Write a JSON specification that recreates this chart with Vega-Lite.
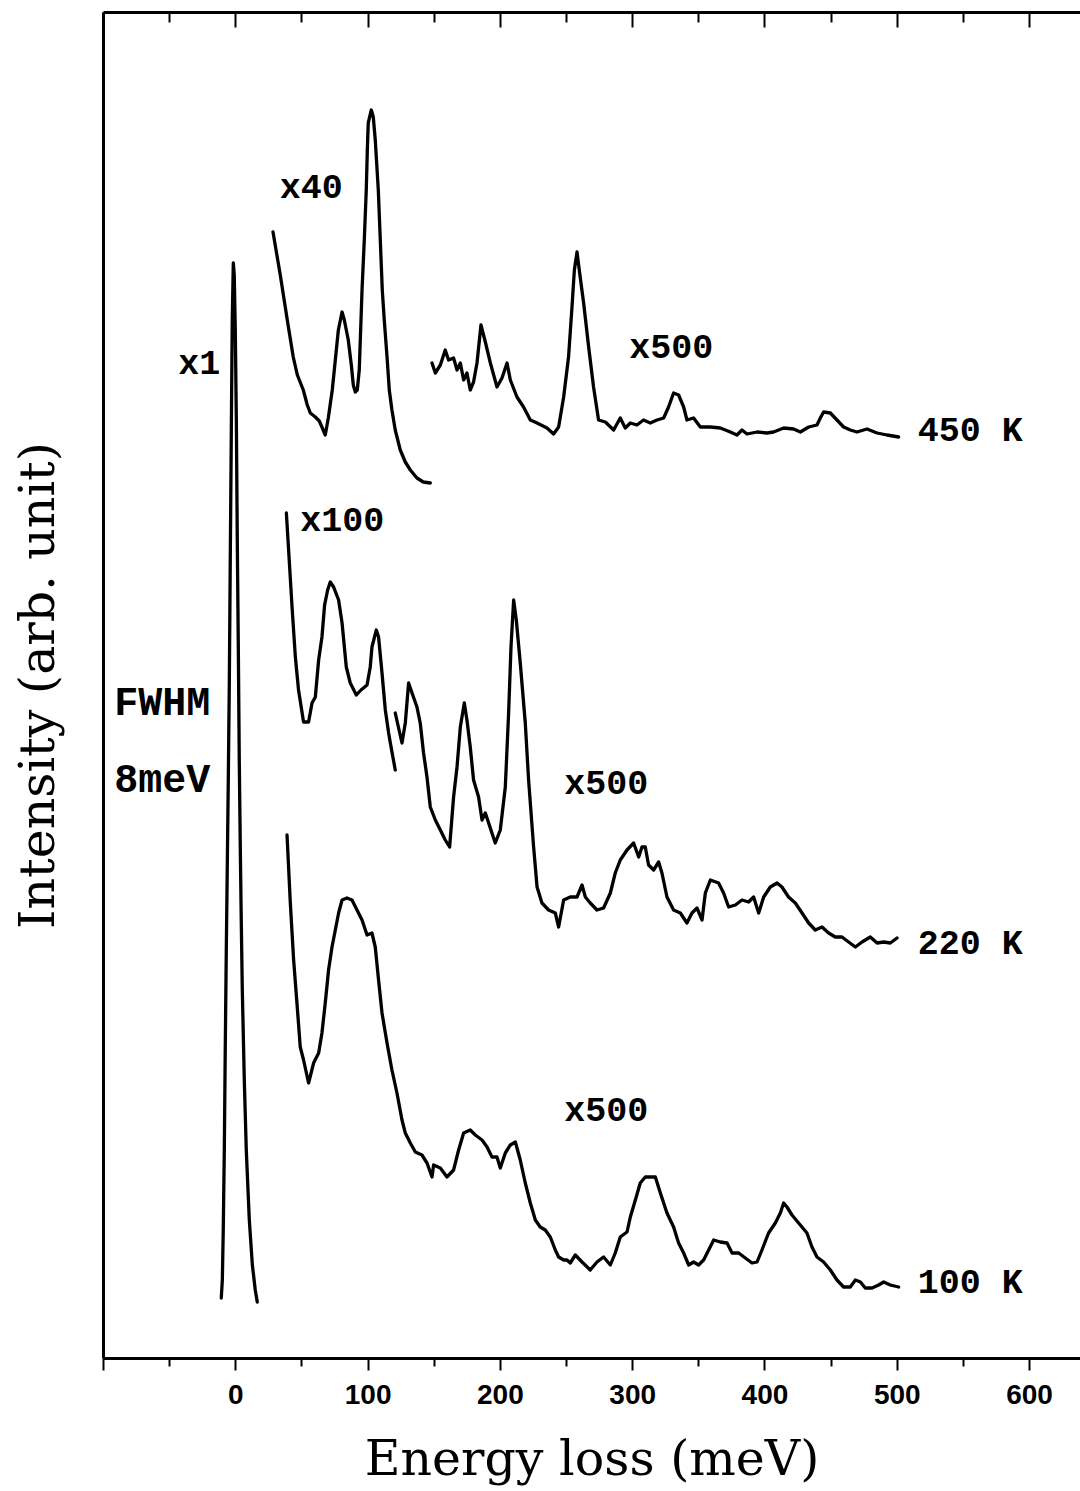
{
  "$schema": "https://vega.github.io/schema/vega-lite/v6.json",
  "width": 977,
  "height": 1346,
  "autosize": {"type": "none"},
  "padding": {"left": 103, "top": 12, "right": 0, "bottom": 133},
  "background": "white",
  "config": {"view": {"stroke": null}},
  "datasets": {
    "curves": [
      {"s":"el","x":-10.6,"y":60},{"s":"el","x":-9.8,"y":78},{"s":"el","x":-9.1,"y":128},{"s":"el","x":-8.3,"y":208},{"s":"el","x":-7.6,"y":308},{"s":"el","x":-6.8,"y":408},{"s":"el","x":-6.0,"y":498},{"s":"el","x":-5.3,"y":578},{"s":"el","x":-4.5,"y":678},{"s":"el","x":-3.8,"y":798},{"s":"el","x":-3.0,"y":928},{"s":"el","x":-2.3,"y":1038},{"s":"el","x":-1.5,"y":1095},{"s":"el","x":-0.8,"y":1083},{"s":"el","x":0,"y":1028},{"s":"el","x":0.8,"y":938},{"s":"el","x":1.5,"y":818},{"s":"el","x":2.3,"y":708},{"s":"el","x":3.0,"y":598},{"s":"el","x":3.8,"y":508},{"s":"el","x":4.5,"y":438},{"s":"el","x":5.3,"y":368},{"s":"el","x":6.8,"y":278},{"s":"el","x":8.3,"y":208},{"s":"el","x":10.6,"y":138},{"s":"el","x":12.9,"y":93},{"s":"el","x":15.1,"y":68},{"s":"el","x":16.6,"y":56},

      {"s":"x40","x":28.5,"y":1126},{"s":"x40","x":34.0,"y":1083},{"s":"x40","x":39.3,"y":1038},{"s":"x40","x":43.8,"y":1001},{"s":"x40","x":46.9,"y":983},{"s":"x40","x":51.4,"y":968},{"s":"x40","x":54.4,"y":953},{"s":"x40","x":56.7,"y":945},{"s":"x40","x":60.5,"y":941},{"s":"x40","x":63.5,"y":937},{"s":"x40","x":65.8,"y":930},{"s":"x40","x":68.0,"y":923},{"s":"x40","x":70.3,"y":940},{"s":"x40","x":73.3,"y":968},{"s":"x40","x":75.6,"y":998},{"s":"x40","x":77.9,"y":1028},{"s":"x40","x":80.7,"y":1046},{"s":"x40","x":82.4,"y":1038},{"s":"x40","x":85.4,"y":1018},{"s":"x40","x":87.7,"y":993},{"s":"x40","x":89.2,"y":973},{"s":"x40","x":90.7,"y":966},{"s":"x40","x":92.2,"y":968},{"s":"x40","x":93.7,"y":988},{"s":"x40","x":95.8,"y":1068},{"s":"x40","x":97.5,"y":1118},{"s":"x40","x":99.0,"y":1168},{"s":"x40","x":99.8,"y":1208},{"s":"x40","x":100.5,"y":1235},{"s":"x40","x":102.8,"y":1248},{"s":"x40","x":104.3,"y":1241},{"s":"x40","x":105.8,"y":1218},{"s":"x40","x":108.1,"y":1168},{"s":"x40","x":109.6,"y":1118},{"s":"x40","x":111.1,"y":1068},{"s":"x40","x":112.6,"y":1038},{"s":"x40","x":114.7,"y":1001},{"s":"x40","x":116.4,"y":968},{"s":"x40","x":118.4,"y":948},{"s":"x40","x":120.9,"y":928},{"s":"x40","x":124.7,"y":908},{"s":"x40","x":128.5,"y":896},{"s":"x40","x":132.3,"y":888},{"s":"x40","x":137.3,"y":880},{"s":"x40","x":142.1,"y":876},{"s":"x40","x":147.4,"y":875},

      {"s":"h500","x":148.7,"y":995},{"s":"h500","x":151.2,"y":985},{"s":"h500","x":155.0,"y":993},{"s":"h500","x":158.7,"y":1008},{"s":"h500","x":161.2,"y":998},{"s":"h500","x":165.0,"y":1000},{"s":"h500","x":167.6,"y":988},{"s":"h500","x":170.1,"y":995},{"s":"h500","x":172.6,"y":978},{"s":"h500","x":175.1,"y":985},{"s":"h500","x":177.6,"y":968},{"s":"h500","x":180.1,"y":976},{"s":"h500","x":182.7,"y":995},{"s":"h500","x":185.7,"y":1033},{"s":"h500","x":189.0,"y":1016},{"s":"h500","x":192.8,"y":995},{"s":"h500","x":197.8,"y":971},{"s":"h500","x":201.6,"y":980},{"s":"h500","x":205.4,"y":995},{"s":"h500","x":207.9,"y":978},{"s":"h500","x":212.9,"y":961},{"s":"h500","x":217.9,"y":951},{"s":"h500","x":223.0,"y":938},{"s":"h500","x":228.1,"y":935},{"s":"h500","x":235.6,"y":930},{"s":"h500","x":240.6,"y":924},{"s":"h500","x":244.4,"y":931},{"s":"h500","x":248.2,"y":961},{"s":"h500","x":251.9,"y":1001},{"s":"h500","x":254.5,"y":1051},{"s":"h500","x":256.3,"y":1088},{"s":"h500","x":258.3,"y":1106},{"s":"h500","x":260.3,"y":1085},{"s":"h500","x":263.3,"y":1055},{"s":"h500","x":267.1,"y":1011},{"s":"h500","x":270.8,"y":971},{"s":"h500","x":274.6,"y":938},{"s":"h500","x":279.7,"y":936},{"s":"h500","x":286.0,"y":928},{"s":"h500","x":291.0,"y":940},{"s":"h500","x":294.8,"y":930},{"s":"h500","x":298.6,"y":935},{"s":"h500","x":303.6,"y":933},{"s":"h500","x":308.6,"y":938},{"s":"h500","x":313.7,"y":935},{"s":"h500","x":318.8,"y":938},{"s":"h500","x":323.8,"y":940},{"s":"h500","x":327.5,"y":951},{"s":"h500","x":331.3,"y":965},{"s":"h500","x":335.1,"y":963},{"s":"h500","x":338.9,"y":951},{"s":"h500","x":341.4,"y":938},{"s":"h500","x":346.4,"y":940},{"s":"h500","x":351.5,"y":931},{"s":"h500","x":359.1,"y":931},{"s":"h500","x":366.6,"y":930},{"s":"h500","x":374.2,"y":926},{"s":"h500","x":379.2,"y":923},{"s":"h500","x":383.0,"y":928},{"s":"h500","x":386.8,"y":924},{"s":"h500","x":394.4,"y":926},{"s":"h500","x":401.9,"y":925},{"s":"h500","x":406.9,"y":926},{"s":"h500","x":414.5,"y":930},{"s":"h500","x":422.0,"y":929},{"s":"h500","x":427.1,"y":926},{"s":"h500","x":433.4,"y":931},{"s":"h500","x":439.7,"y":933},{"s":"h500","x":442.2,"y":940},{"s":"h500","x":444.7,"y":946},{"s":"h500","x":449.8,"y":945},{"s":"h500","x":454.8,"y":938},{"s":"h500","x":459.8,"y":931},{"s":"h500","x":464.9,"y":928},{"s":"h500","x":469.9,"y":926},{"s":"h500","x":477.5,"y":929},{"s":"h500","x":485.1,"y":925},{"s":"h500","x":492.6,"y":923},{"s":"h500","x":501.4,"y":921},

      {"s":"m100","x":38.6,"y":845},{"s":"m100","x":40.3,"y":808},{"s":"m100","x":42.9,"y":751},{"s":"m100","x":45.4,"y":701},{"s":"m100","x":47.8,"y":668},{"s":"m100","x":51.6,"y":636},{"s":"m100","x":55.4,"y":636},{"s":"m100","x":58.0,"y":655},{"s":"m100","x":60.5,"y":661},{"s":"m100","x":63.0,"y":698},{"s":"m100","x":65.5,"y":721},{"s":"m100","x":67.5,"y":753},{"s":"m100","x":69.8,"y":768},{"s":"m100","x":71.8,"y":776},{"s":"m100","x":74.3,"y":771},{"s":"m100","x":78.1,"y":758},{"s":"m100","x":80.7,"y":735},{"s":"m100","x":83.9,"y":691},{"s":"m100","x":86.9,"y":675},{"s":"m100","x":91.5,"y":663},{"s":"m100","x":95.0,"y":668},{"s":"m100","x":99.6,"y":673},{"s":"m100","x":102.0,"y":691},{"s":"m100","x":103.3,"y":711},{"s":"m100","x":106.6,"y":728},{"s":"m100","x":108.3,"y":721},{"s":"m100","x":110.9,"y":685},{"s":"m100","x":113.4,"y":648},{"s":"m100","x":115.9,"y":625},{"s":"m100","x":117.2,"y":615},{"s":"m100","x":120.9,"y":588},

      {"s":"m500","x":120.9,"y":645},{"s":"m500","x":126.0,"y":615},{"s":"m500","x":128.5,"y":635},{"s":"m500","x":131.0,"y":675},{"s":"m500","x":133.6,"y":665},{"s":"m500","x":137.3,"y":651},{"s":"m500","x":139.8,"y":635},{"s":"m500","x":142.3,"y":605},{"s":"m500","x":144.9,"y":581},{"s":"m500","x":147.4,"y":551},{"s":"m500","x":151.2,"y":538},{"s":"m500","x":155.0,"y":528},{"s":"m500","x":158.7,"y":518},{"s":"m500","x":162.0,"y":511},{"s":"m500","x":165.0,"y":561},{"s":"m500","x":167.6,"y":591},{"s":"m500","x":170.1,"y":631},{"s":"m500","x":173.1,"y":655},{"s":"m500","x":175.1,"y":638},{"s":"m500","x":177.6,"y":611},{"s":"m500","x":180.1,"y":578},{"s":"m500","x":183.9,"y":561},{"s":"m500","x":186.5,"y":538},{"s":"m500","x":189.0,"y":545},{"s":"m500","x":191.5,"y":535},{"s":"m500","x":196.5,"y":515},{"s":"m500","x":200.3,"y":528},{"s":"m500","x":204.1,"y":571},{"s":"m500","x":206.6,"y":645},{"s":"m500","x":208.4,"y":711},{"s":"m500","x":210.4,"y":758},{"s":"m500","x":212.4,"y":738},{"s":"m500","x":215.4,"y":695},{"s":"m500","x":219.2,"y":635},{"s":"m500","x":221.7,"y":578},{"s":"m500","x":225.5,"y":511},{"s":"m500","x":228.1,"y":471},{"s":"m500","x":231.8,"y":455},{"s":"m500","x":236.8,"y":448},{"s":"m500","x":241.9,"y":445},{"s":"m500","x":244.4,"y":431},{"s":"m500","x":248.2,"y":458},{"s":"m500","x":253.2,"y":461},{"s":"m500","x":258.3,"y":461},{"s":"m500","x":262.1,"y":473},{"s":"m500","x":264.6,"y":461},{"s":"m500","x":268.3,"y":455},{"s":"m500","x":273.4,"y":448},{"s":"m500","x":278.4,"y":450},{"s":"m500","x":283.5,"y":465},{"s":"m500","x":287.2,"y":485},{"s":"m500","x":291.0,"y":498},{"s":"m500","x":296.1,"y":508},{"s":"m500","x":301.1,"y":515},{"s":"m500","x":304.9,"y":501},{"s":"m500","x":307.4,"y":511},{"s":"m500","x":309.9,"y":511},{"s":"m500","x":312.4,"y":493},{"s":"m500","x":316.2,"y":488},{"s":"m500","x":320.0,"y":496},{"s":"m500","x":322.5,"y":485},{"s":"m500","x":326.3,"y":461},{"s":"m500","x":331.3,"y":448},{"s":"m500","x":336.4,"y":445},{"s":"m500","x":341.4,"y":435},{"s":"m500","x":345.2,"y":445},{"s":"m500","x":349.0,"y":450},{"s":"m500","x":352.8,"y":438},{"s":"m500","x":355.3,"y":465},{"s":"m500","x":359.1,"y":478},{"s":"m500","x":365.3,"y":475},{"s":"m500","x":369.1,"y":465},{"s":"m500","x":372.9,"y":451},{"s":"m500","x":378.0,"y":453},{"s":"m500","x":383.0,"y":458},{"s":"m500","x":388.0,"y":456},{"s":"m500","x":391.8,"y":461},{"s":"m500","x":395.6,"y":445},{"s":"m500","x":399.4,"y":461},{"s":"m500","x":404.4,"y":471},{"s":"m500","x":409.5,"y":475},{"s":"m500","x":413.2,"y":471},{"s":"m500","x":418.2,"y":461},{"s":"m500","x":423.3,"y":455},{"s":"m500","x":428.4,"y":445},{"s":"m500","x":433.4,"y":435},{"s":"m500","x":438.4,"y":428},{"s":"m500","x":443.5,"y":431},{"s":"m500","x":448.5,"y":425},{"s":"m500","x":453.5,"y":421},{"s":"m500","x":458.6,"y":421},{"s":"m500","x":463.6,"y":416},{"s":"m500","x":468.7,"y":411},{"s":"m500","x":473.7,"y":416},{"s":"m500","x":480.0,"y":421},{"s":"m500","x":485.1,"y":415},{"s":"m500","x":490.1,"y":416},{"s":"m500","x":495.1,"y":415},{"s":"m500","x":500.2,"y":420},

      {"s":"l500","x":39.1,"y":523},{"s":"l500","x":41.6,"y":455},{"s":"l500","x":44.1,"y":398},{"s":"l500","x":46.6,"y":355},{"s":"l500","x":49.1,"y":311},{"s":"l500","x":51.6,"y":298},{"s":"l500","x":55.4,"y":275},{"s":"l500","x":59.2,"y":295},{"s":"l500","x":63.0,"y":305},{"s":"l500","x":65.5,"y":325},{"s":"l500","x":68.0,"y":355},{"s":"l500","x":70.5,"y":388},{"s":"l500","x":73.1,"y":411},{"s":"l500","x":75.6,"y":428},{"s":"l500","x":78.1,"y":445},{"s":"l500","x":80.7,"y":458},{"s":"l500","x":84.4,"y":460},{"s":"l500","x":88.2,"y":458},{"s":"l500","x":92.0,"y":448},{"s":"l500","x":95.8,"y":438},{"s":"l500","x":99.6,"y":423},{"s":"l500","x":103.3,"y":425},{"s":"l500","x":105.8,"y":411},{"s":"l500","x":108.3,"y":378},{"s":"l500","x":110.9,"y":345},{"s":"l500","x":114.7,"y":315},{"s":"l500","x":118.4,"y":288},{"s":"l500","x":122.2,"y":265},{"s":"l500","x":126.0,"y":238},{"s":"l500","x":128.5,"y":225},{"s":"l500","x":132.3,"y":215},{"s":"l500","x":136.1,"y":206},{"s":"l500","x":141.1,"y":203},{"s":"l500","x":144.9,"y":195},{"s":"l500","x":148.7,"y":181},{"s":"l500","x":149.9,"y":193},{"s":"l500","x":155.0,"y":190},{"s":"l500","x":160.0,"y":181},{"s":"l500","x":165.0,"y":188},{"s":"l500","x":168.8,"y":208},{"s":"l500","x":172.6,"y":225},{"s":"l500","x":177.6,"y":228},{"s":"l500","x":181.4,"y":223},{"s":"l500","x":186.5,"y":218},{"s":"l500","x":190.3,"y":211},{"s":"l500","x":194.0,"y":201},{"s":"l500","x":197.8,"y":201},{"s":"l500","x":200.3,"y":190},{"s":"l500","x":204.1,"y":205},{"s":"l500","x":207.9,"y":213},{"s":"l500","x":211.7,"y":216},{"s":"l500","x":215.4,"y":198},{"s":"l500","x":219.2,"y":175},{"s":"l500","x":223.0,"y":155},{"s":"l500","x":226.8,"y":138},{"s":"l500","x":230.5,"y":131},{"s":"l500","x":234.3,"y":128},{"s":"l500","x":238.1,"y":121},{"s":"l500","x":241.9,"y":108},{"s":"l500","x":244.4,"y":101},{"s":"l500","x":248.2,"y":98},{"s":"l500","x":250.7,"y":98},{"s":"l500","x":253.2,"y":95},{"s":"l500","x":257.0,"y":103},{"s":"l500","x":262.1,"y":96},{"s":"l500","x":268.3,"y":88},{"s":"l500","x":273.4,"y":96},{"s":"l500","x":278.4,"y":101},{"s":"l500","x":283.5,"y":93},{"s":"l500","x":287.2,"y":105},{"s":"l500","x":291.0,"y":121},{"s":"l500","x":296.1,"y":126},{"s":"l500","x":298.6,"y":141},{"s":"l500","x":302.4,"y":158},{"s":"l500","x":306.1,"y":175},{"s":"l500","x":309.9,"y":181},{"s":"l500","x":313.7,"y":181},{"s":"l500","x":317.5,"y":181},{"s":"l500","x":321.3,"y":165},{"s":"l500","x":326.3,"y":145},{"s":"l500","x":331.3,"y":131},{"s":"l500","x":335.1,"y":115},{"s":"l500","x":338.9,"y":105},{"s":"l500","x":342.7,"y":93},{"s":"l500","x":346.4,"y":96},{"s":"l500","x":350.2,"y":93},{"s":"l500","x":354.0,"y":98},{"s":"l500","x":357.8,"y":108},{"s":"l500","x":361.6,"y":118},{"s":"l500","x":366.6,"y":116},{"s":"l500","x":371.7,"y":115},{"s":"l500","x":375.5,"y":105},{"s":"l500","x":380.5,"y":105},{"s":"l500","x":385.5,"y":100},{"s":"l500","x":390.6,"y":95},{"s":"l500","x":394.4,"y":96},{"s":"l500","x":398.1,"y":108},{"s":"l500","x":403.1,"y":125},{"s":"l500","x":408.2,"y":135},{"s":"l500","x":412.0,"y":145},{"s":"l500","x":414.5,"y":155},{"s":"l500","x":417.0,"y":151},{"s":"l500","x":420.8,"y":143},{"s":"l500","x":425.8,"y":135},{"s":"l500","x":432.1,"y":125},{"s":"l500","x":435.9,"y":111},{"s":"l500","x":439.7,"y":101},{"s":"l500","x":444.7,"y":96},{"s":"l500","x":449.8,"y":88},{"s":"l500","x":454.8,"y":78},{"s":"l500","x":459.8,"y":71},{"s":"l500","x":464.9,"y":71},{"s":"l500","x":468.7,"y":78},{"s":"l500","x":472.5,"y":76},{"s":"l500","x":476.2,"y":70},{"s":"l500","x":481.3,"y":70},{"s":"l500","x":486.3,"y":73},{"s":"l500","x":490.1,"y":76},{"s":"l500","x":495.1,"y":73},{"s":"l500","x":501.4,"y":71}
    ],
    "labels": [
      {"t":"x40","x":57.4,"y":1171},
      {"t":"x1","x":-27.2,"y":995},
      {"t":"x500","x":329.6,"y":1011},
      {"t":"450 K","x":555.6,"y":928},
      {"t":"x100","x":80.9,"y":838},
      {"t":"x500","x":280.4,"y":575},
      {"t":"220 K","x":555.6,"y":415},
      {"t":"x500","x":280.4,"y":248},
      {"t":"100 K","x":555.6,"y":76}
    ],
    "notes": [
      {"t":"FWHM","x":-55.2,"y":655},
      {"t":"8meV","x":-55.2,"y":578}
    ]
  },
  "layer": [
    {
      "data": {"name": "curves"},
      "mark": {"type": "line", "color": "black", "strokeWidth": 3.3, "strokeJoin": "round", "strokeCap": "round"},
      "encoding": {
        "x": {"field": "x", "type": "quantitative", "scale": {"domain": [-100, 638.5], "nice": false, "zero": false},
          "axis": {"orient": "bottom", "title": "Energy loss (meV)", "values": [-100,-50,0,50,100,150,200,250,300,350,400,450,500,550,600],
            "labelExpr": "datum.value % 100 === 0 && datum.value >= 0 ? datum.label : ''",
            "grid": false, "domainColor": "black", "domainWidth": 3, "tickColor": "black", "tickWidth": 2,
            "tickSize": {"condition": {"test": "datum.value % 100 === 0", "value": 12}, "value": 8},
            "labelFont": "Liberation Sans", "labelFontWeight": "bold", "labelFontSize": 28, "labelColor": "black", "labelPadding": 11,
            "titleFont": "DejaVu Serif", "titleFontWeight": "normal", "titleFontSize": 49, "titleColor": "black", "titlePadding": 26}},
        "y": {"field": "y", "type": "quantitative", "scale": {"domain": [0, 1346], "nice": false},
          "axis": {"orient": "left", "title": "Intensity (arb. unit)", "ticks": false, "labels": false, "grid": false,
            "domainColor": "black", "domainWidth": 3,
            "titleFont": "DejaVu Serif", "titleFontWeight": "normal", "titleFontSize": 49, "titleColor": "black", "titlePadding": 40}},
        "detail": {"field": "s", "type": "nominal"}
      }
    },
    {
      "data": {"name": "labels"},
      "mark": {"type": "text", "font": "Liberation Mono", "fontWeight": "bold", "fontSize": 35, "color": "black", "align": "center", "baseline": "middle"},
      "encoding": {
        "x": {"field": "x", "type": "quantitative",
          "axis": {"orient": "top", "title": null, "labels": false, "values": [-100,-50,0,50,100,150,200,250,300,350,400,450,500,550,600],
            "grid": false, "domainColor": "black", "domainWidth": 3, "tickColor": "black", "tickWidth": 2,
            "tickSize": {"condition": {"test": "datum.value % 100 === 0", "value": -15}, "value": -10}}},
        "y": {"field": "y", "type": "quantitative",
          "axis": {"orient": "left", "title": "Intensity (arb. unit)", "ticks": false, "labels": false, "grid": false,
            "domainColor": "black", "domainWidth": 3,
            "titleFont": "DejaVu Serif", "titleFontWeight": "normal", "titleFontSize": 49, "titleColor": "black", "titlePadding": 40}},
        "text": {"field": "t", "type": "nominal"}
      }
    },
    {
      "data": {"name": "notes"},
      "mark": {"type": "text", "font": "Liberation Mono", "fontWeight": "bold", "fontSize": 40, "color": "black", "align": "center", "baseline": "middle"},
      "encoding": {
        "x": {"field": "x", "type": "quantitative", "axis": null},
        "y": {"field": "y", "type": "quantitative",
          "axis": {"orient": "left", "title": "Intensity (arb. unit)", "ticks": false, "labels": false, "grid": false,
            "domainColor": "black", "domainWidth": 3,
            "titleFont": "DejaVu Serif", "titleFontWeight": "normal", "titleFontSize": 49, "titleColor": "black", "titlePadding": 40}},
        "text": {"field": "t", "type": "nominal"}
      }
    }
  ],
  "resolve": {"axis": {"x": "independent"}}
}
